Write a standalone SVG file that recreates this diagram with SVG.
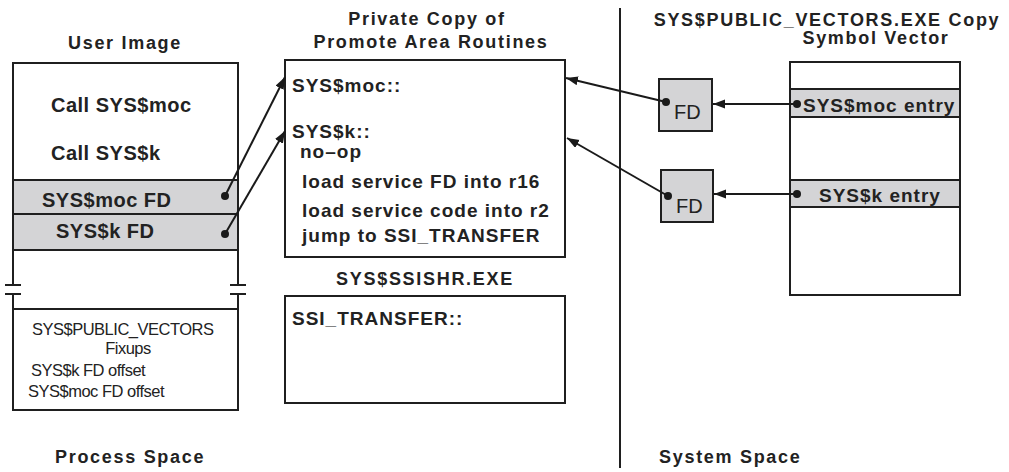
<svg xmlns="http://www.w3.org/2000/svg" width="1009" height="472" viewBox="0 0 1009 472">
  <defs>
    <marker id="arrow" markerUnits="userSpaceOnUse" markerWidth="13" markerHeight="10" refX="12" refY="4.5" orient="auto">
      <path d="M0,0 L12,4.5 L0,9 z" fill="#1a1a1a"/>
    </marker>
    <style>
      .box { fill: #ffffff; stroke: #1f1f1f; stroke-width: 2; }
      .band { fill: #d4d4d6; stroke: #1f1f1f; stroke-width: 2; }
      .ln { fill: none; stroke: #1f1f1f; stroke-width: 2; }
      .conn { fill: none; stroke: #1a1a1a; stroke-width: 2; marker-end: url(#arrow); }
      .dot { fill: #1a1a1a; }
      .hd { font-family: "Liberation Sans", Arial, sans-serif; font-weight: bold; font-size: 18px; letter-spacing: 1.7px; fill: #222; }
      .big { font-family: "Liberation Sans", Arial, sans-serif; font-weight: bold; font-size: 20px; letter-spacing: 0.5px; fill: #222; }
      .code { font-family: "Liberation Sans", Arial, sans-serif; font-weight: bold; font-size: 19px; letter-spacing: 1px; fill: #222; }
      .small { font-family: "Liberation Sans", Arial, sans-serif; font-size: 16.5px; letter-spacing: -0.5px; fill: #222; }
      .fd { font-family: "Liberation Sans", Arial, sans-serif; font-size: 20px; fill: #222; }
    </style>
  </defs>

  <!-- space divider -->
  <line class="ln" x1="620" y1="8" x2="620" y2="468"/>

  <!-- process space: user image -->
  <g id="user-image">
    <text class="hd" x="125" y="49" text-anchor="middle">User Image</text>
    <path class="ln" d="M13,285 V63 H238 V285"/>
    <rect class="band" x="13" y="180" width="225" height="34"/>
    <rect class="band" x="13" y="214" width="225" height="36"/>
    <text class="big" x="51" y="112">Call SYS$moc</text>
    <text class="big" x="51" y="160">Call SYS$k</text>
    <text class="big" x="42" y="207">SYS$moc FD</text>
    <text class="big" x="56" y="238">SYS$k FD</text>
    <!-- address-space break marks -->
    <path class="ln" d="M5,285 H21 M5,294 H21 M230,285 H246 M230,294 H246"/>
    <path class="ln" d="M13,294 V410 H238 V294 M13,309 H238"/>
    <text class="small" x="32" y="335">SYS$PUBLIC_VECTORS</text>
    <text class="small" x="128" y="354" text-anchor="middle">Fixups</text>
    <text class="small" x="31" y="376">SYS$k FD offset</text>
    <text class="small" x="28" y="397">SYS$moc FD offset</text>
    <text class="hd" x="55" y="463">Process Space</text>
  </g>

  <!-- private copy of promote area routines -->
  <g id="promote-area">
    <text class="hd" x="427" y="25" text-anchor="middle">Private Copy of</text>
    <text class="hd" x="431" y="48" text-anchor="middle">Promote Area Routines</text>
    <rect class="box" x="285" y="60" width="280" height="197"/>
    <text class="code" x="292" y="92">SYS$moc::</text>
    <text class="code" x="292" y="138">SYS$k::</text>
    <text class="code" x="300" y="158">no–op</text>
    <text class="code" x="302" y="188">load service FD into r16</text>
    <text class="code" x="302" y="217">load service code into r2</text>
    <text class="code" x="302" y="242">jump to  SSI_TRANSFER</text>
  </g>

  <!-- SYS$SSISHR.EXE -->
  <g id="ssishr">
    <text class="hd" x="425" y="285" text-anchor="middle">SYS$SSISHR.EXE</text>
    <rect class="box" x="285" y="296" width="280" height="107"/>
    <text class="code" x="292" y="325">SSI_TRANSFER::</text>
  </g>

  <!-- function descriptors in system space -->
  <g id="fd-moc">
    <rect class="band" x="659" y="79" width="53" height="52"/>
    <text class="fd" x="674" y="119">FD</text>
  </g>
  <g id="fd-k">
    <rect class="band" x="661" y="170" width="52" height="52"/>
    <text class="fd" x="676" y="213">FD</text>
  </g>

  <!-- public vectors symbol vector -->
  <g id="symbol-vector">
    <text class="hd" x="827" y="26" text-anchor="middle">SYS$PUBLIC_VECTORS.EXE Copy</text>
    <text class="hd" x="876" y="44" text-anchor="middle">Symbol Vector</text>
    <rect class="box" x="790" y="62" width="170" height="233"/>
    <rect class="band" x="790" y="89" width="170" height="28"/>
    <rect class="band" x="790" y="180" width="170" height="27"/>
    <text class="code" x="803" y="112">SYS$moc entry</text>
    <text class="code" x="819" y="202">SYS$k entry</text>
    <text class="hd" x="659" y="463">System Space</text>
  </g>

  <!-- pointers -->
  <g id="connectors">
    <line class="conn" x1="225" y1="196" x2="285" y2="77"/>
    <line class="conn" x1="225" y1="234" x2="285" y2="131"/>
    <line class="conn" x1="666" y1="102" x2="566" y2="78"/>
    <line class="conn" x1="668" y1="196" x2="567" y2="138"/>
    <line class="conn" x1="797" y1="104" x2="713" y2="104"/>
    <line class="conn" x1="797" y1="194" x2="714" y2="194"/>
    <circle class="dot" cx="225" cy="196" r="4"/>
    <circle class="dot" cx="225" cy="234" r="4"/>
    <circle class="dot" cx="666" cy="102" r="4"/>
    <circle class="dot" cx="668" cy="196" r="4"/>
    <circle class="dot" cx="797" cy="104" r="4"/>
    <circle class="dot" cx="797" cy="194" r="4"/>
  </g>
</svg>
